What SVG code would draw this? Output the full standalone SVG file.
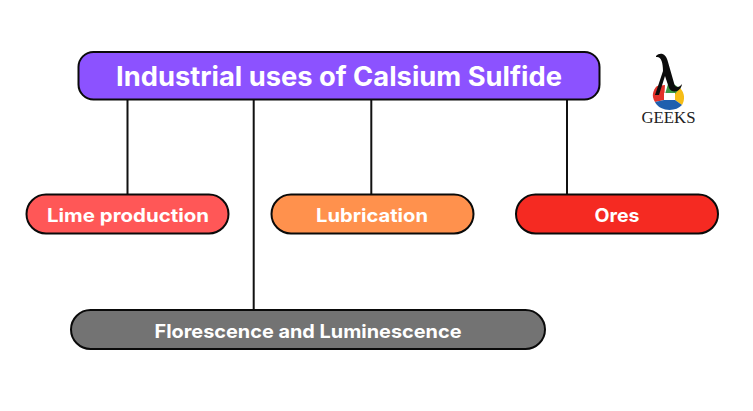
<svg xmlns="http://www.w3.org/2000/svg" width="753" height="411" viewBox="0 0 753 411">
<style>
.box{stroke:#0a0a0a;stroke-width:2}
.wire{stroke:#111;stroke-width:2;fill:none}
text{font-family:Inter,"Liberation Sans",sans-serif;font-weight:700;fill:#fff;text-anchor:middle}
.small{font-size:18.500px}
</style>
<rect width="753" height="411" fill="#fff"/>
<g id="connectors">
<path class="wire" d="M127.500 100V194M253.700 100V310M371.300 100V194M567 100V194"/>
</g>
<g id="title">
<rect class="box" x="78.500" y="52" width="521" height="47.500" rx="15" fill="#8c52ff"/>
<text x="339" y="86" font-size="26.500" textLength="446" lengthAdjust="spacingAndGlyphs">Industrial uses of Calsium Sulfide</text>
</g>
<g id="lime">
<rect class="box" x="26.500" y="194.500" width="202" height="39" rx="19.500" fill="#ff5757"/>
<text class="small" x="128" y="221.500" textLength="162" lengthAdjust="spacingAndGlyphs">Lime production</text>
</g>
<g id="lubrication">
<rect class="box" x="271.500" y="194.500" width="202" height="39" rx="19.500" fill="#ff914d"/>
<text class="small" x="372" y="221.500" textLength="112" lengthAdjust="spacingAndGlyphs">Lubrication</text>
</g>
<g id="ores">
<rect class="box" x="516" y="194.500" width="202" height="39" rx="19.500" fill="#f52a22"/>
<text class="small" x="617" y="221.500" textLength="45" lengthAdjust="spacingAndGlyphs">Ores</text>
</g>
<g id="florescence">
<rect class="box" x="71" y="310" width="474" height="39" rx="19.500" fill="#737373"/>
<text class="small" x="308" y="337.500" textLength="307" lengthAdjust="spacingAndGlyphs">Florescence and Luminescence</text>
</g>
<g id="logo">
<!-- colour drop behind the lambda -->
<path d="M669 81L681 89L676 94H665Z" fill="#3c9a46"/>
<path d="M657 86L665 85L664 100L655 102C651 96 653 90 657 86Z" fill="#e2322a"/>
<path d="M680 88C685 93 685 100 682 105L675 100L675 94Z" fill="#f6bd16"/>
<path d="M655 102L664 100H675L682 105C676 112 660 112 655 102Z" fill="#1f5fae"/>
<path d="M664 93H675V100H664Z" fill="#fff"/>
<!-- lambda glyph shape -->
<path d="M656 56C660 52 666 53 668 62L674 83C675 88 679 88 682 84C681 92 672 94 669 88L665 76L659 95L655 95L663 71C663 62 661 56 656 57Z" fill="#0c0c0c"/>
<text x="668.500" y="123" font-size="16.500" textLength="54" lengthAdjust="spacingAndGlyphs" style="font-family:'Liberation Serif',serif;font-weight:400;fill:#222">GEEKS</text>
</g>
</svg>
